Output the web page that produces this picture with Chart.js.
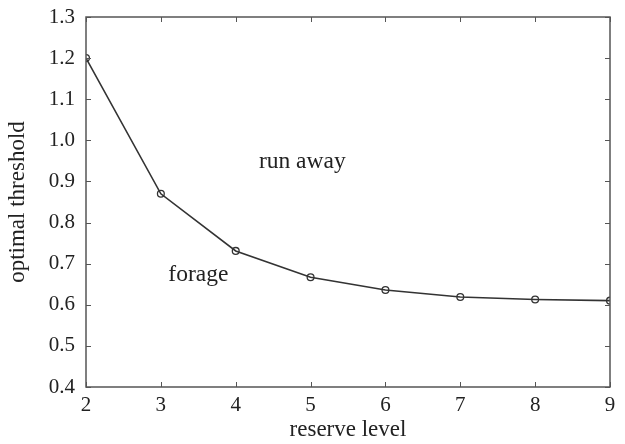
<!DOCTYPE html>
<html><head><meta charset="utf-8">
<script src="https://cdn.jsdelivr.net/npm/chart.js@4/dist/chart.umd.min.js"></script>
<style>html,body{margin:0;padding:0;background:#fff}#wrap{width:625px;height:444px}</style>
</head><body><div id="wrap"><canvas id="c" width="625" height="444"></canvas></div>
<script>
const reserveLevels = [2, 3, 4, 5, 6, 7, 8, 9];
const optimalThreshold = [1.20, 0.87, 0.731, 0.667, 0.636, 0.619, 0.613, 0.610];
const xTicks = [2, 3, 4, 5, 6, 7, 8, 9];
const yTicks = [0.4, 0.5, 0.6, 0.7, 0.8, 0.9, 1.0, 1.1, 1.2, 1.3];
const annotations = [
  {text: 'run away', x: 4.31, y: 0.947},
  {text: 'forage', x: 3.1, y: 0.672}
];
const FONT = '"Liberation Serif", "Times New Roman", serif';
const AX = '#555';

const boxPlugin = {
  id: 'box',
  afterDraw(chart) {
    const {ctx, chartArea: a, scales: {x, y}} = chart;
    ctx.save();
    ctx.strokeStyle = AX; ctx.lineWidth = 1.5;
    ctx.strokeRect(a.left, a.top, a.right - a.left, a.bottom - a.top);
    ctx.lineWidth = 1;
    const L = 5;
    xTicks.forEach(v => {
      const px = Math.round(x.getPixelForValue(v)) + 0.5;
      ctx.beginPath();
      ctx.moveTo(px, a.bottom); ctx.lineTo(px, a.bottom - L);
      ctx.moveTo(px, a.top); ctx.lineTo(px, a.top + L);
      ctx.stroke();
    });
    yTicks.forEach(v => {
      const py = Math.round(y.getPixelForValue(v)) + 0.5;
      ctx.beginPath();
      ctx.moveTo(a.left, py); ctx.lineTo(a.left + L, py);
      ctx.moveTo(a.right, py); ctx.lineTo(a.right - L, py);
      ctx.stroke();
    });
    ctx.fillStyle = '#222';
    ctx.font = '23.5px ' + FONT;
    ctx.textAlign = 'left'; ctx.textBaseline = 'middle';
    annotations.forEach(t => {
      ctx.fillText(t.text, x.getPixelForValue(t.x), y.getPixelForValue(t.y));
    });
    ctx.restore();
  }
};

new Chart(document.getElementById('c'), {
  type: 'line',
  data: {
    labels: reserveLevels,
    datasets: [{
      data: reserveLevels.map((r, i) => ({x: r, y: optimalThreshold[i]})),
      borderColor: '#333', borderWidth: 1.6,
      pointRadius: 3.4, pointBorderWidth: 1.3,
      pointBackgroundColor: 'rgba(255,255,255,0)', pointBorderColor: '#333',
      tension: 0, fill: false
    }]
  },
  options: {
    responsive: false, animation: false,
    layout: {padding: {top: 17, right: 15, left: 0, bottom: 0}},
    plugins: {legend: {display: false}, tooltip: {enabled: false}},
    scales: {
      x: {
        type: 'linear', min: 2, max: 9,
        afterBuildTicks: s => { s.ticks = xTicks.map(v => ({value: v})); },
        afterFit: s => { s.height = 57; s.paddingLeft = 0; s.paddingRight = 0; },
        grid: {display: false, drawTicks: false},
        border: {display: false},
        ticks: {color: '#222', font: {family: FONT, size: 21}, padding: 6, maxRotation: 0},
        title: {display: true, text: 'reserve level', color: '#222', font: {family: FONT, size: 23}, padding: {top: 0, bottom: 0}}
      },
      y: {
        type: 'linear', min: 0.4, max: 1.3,
        afterBuildTicks: s => { s.ticks = yTicks.map(v => ({value: v})); },
        afterFit: s => { s.width = 86; s.paddingTop = 0; s.paddingBottom = 0; },
        grid: {display: false, drawTicks: false},
        border: {display: false},
        ticks: {color: '#222', font: {family: FONT, size: 21}, padding: 11, callback: v => v.toFixed(1)},
        title: {display: true, text: 'optimal threshold', color: '#222', font: {family: FONT, size: 23}, padding: {top: 4, bottom: 0}}
      }
    }
  },
  plugins: [boxPlugin]
});
</script></body></html>
